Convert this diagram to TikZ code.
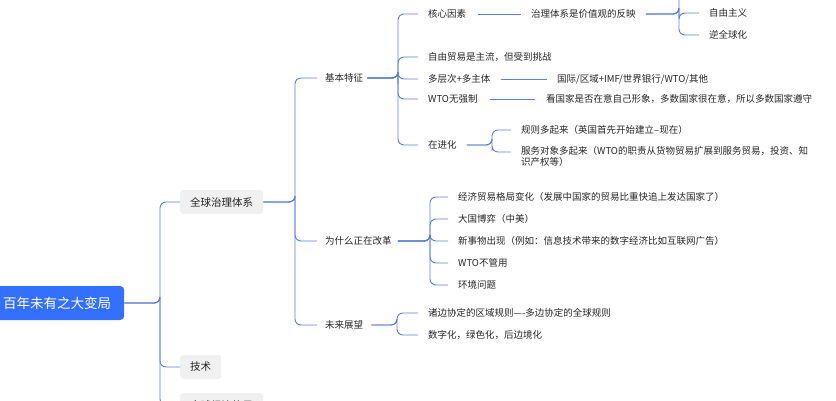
\documentclass[tikz,border=0pt]{standalone}
\usepackage{fontspec}
\setmainfont{Noto Sans CJK SC}
\begin{document}
\begin{tikzpicture}[x=1pt,y=-1pt,
  every node/.style={font=\fontsize{9.5}{11}\selectfont,text=black!85,inner sep=0pt,anchor=west},
  conn/.style={draw=linkblue,line width=0.9pt,rounded corners=6pt},
  gbox/.style={fill=gray!12,rounded corners=3pt,minimum height=24pt,inner xsep=10pt,font=\fontsize{10.5}{12}\selectfont}]
\definecolor{rootblue}{HTML}{3370FF}
\definecolor{linkblue}{HTML}{5B7FD6}
\useasboundingbox (0,0) rectangle (836,400);
\clip (0,0) rectangle (836,400);
\node[fill=rootblue,rounded corners=4pt,minimum height=34pt,text=white,inner xsep=13pt,font=\fontsize{13.5}{15}\selectfont] (root) at (-10,303) {百年未有之大变局};
\node[gbox] (g1) at (180,202) {全球治理体系};
\node[gbox] (g2) at (180,367) {技术};
\node[gbox] (g3) at (180,405) {全球经济格局};
\foreach \n in {g1,g2,g3}{\draw[conn] (root.east) -| (160,303) |- (\n.west);}
\node (b1) at (325,78) {基本特征};
\node (b2) at (325,241) {为什么正在改革};
\node (b3) at (325,325) {未来展望};
\foreach \n in {b1,b2,b3}{\draw[conn] (g1.east) -| (295,202) |- ([xshift=-8pt]\n.west);}
% basic features
\node (c1) at (428,14) {核心因素};
\node (c2) at (428,57) {自由贸易是主流，但受到挑战};
\node (c3) at (428,79) {多层次+多主体};
\node (c4) at (428,99) {WTO无强制};
\node (c5) at (428,145) {在进化};
\foreach \n in {c1,c2,c3,c4,c5}{\draw[conn] ([xshift=4pt]b1.east) -| (398,78) |- ([xshift=-10pt]\n.west);}
\node (d1) at (531,14) {治理体系是价值观的反映};
\draw[conn] ([xshift=12pt]c1.east) -- ([xshift=-10pt]d1.west);
\node (e0) at (709,-9) {};
\node (e1) at (709,13) {自由主义};
\node (e2) at (709,35) {逆全球化};
\foreach \n in {e0,e1,e2}{\draw[conn] ([xshift=10pt]d1.east) -| (679,14) |- ([xshift=-10pt]\n.west);}
\node (d3) at (557,79) {国际/区域+IMF/世界银行/WTO/其他};
\draw[conn] ([xshift=10pt]c3.east) -- ([xshift=-10pt]d3.west);
\node (d4) at (546,99) {看国家是否在意自己形象，多数国家很在意，所以多数国家遵守};
\draw[conn] ([xshift=12pt]c4.east) -- ([xshift=-11pt]d4.west);
\node (f1) at (521,130) {规则多起来（英国首先开始建立--现在）};
\node[align=left,anchor=north west] (f2) at (521,146) {服务对象多起来（WTO的职责从货物贸易扩展到服务贸易，投资、知\\识产权等）};
\draw[conn] ([xshift=10pt]c5.east) -| (492,145) |- ([xshift=-10pt]f1.west);
\draw[conn] ([xshift=10pt]c5.east) -| (492,145) |- (511,152);
% reform
\foreach \y/\t [count=\i] in {197/经济贸易格局变化（发展中国家的贸易比重快追上发达国家了）,219/大国博弈（中美）,241/新事物出现（例如：信息技术带来的数字经济比如互联网广告）,263/WTO不管用,285/环境问题}{
  \node (r\i) at (458,\y) {\t};
  \draw[conn] ([xshift=6pt]b2.east) -| (430,241) |- ([xshift=-10pt]r\i.west);
}
\node (s1) at (428,313) {诸边协定的区域规则----多边协定的全球规则};
\node (s2) at (428,335) {数字化，绿色化，后边境化};
\foreach \n in {s1,s2}{\draw[conn] ([xshift=8pt]b3.east) -| (397,325) |- ([xshift=-10pt]\n.west);}
\end{tikzpicture}
\end{document}
